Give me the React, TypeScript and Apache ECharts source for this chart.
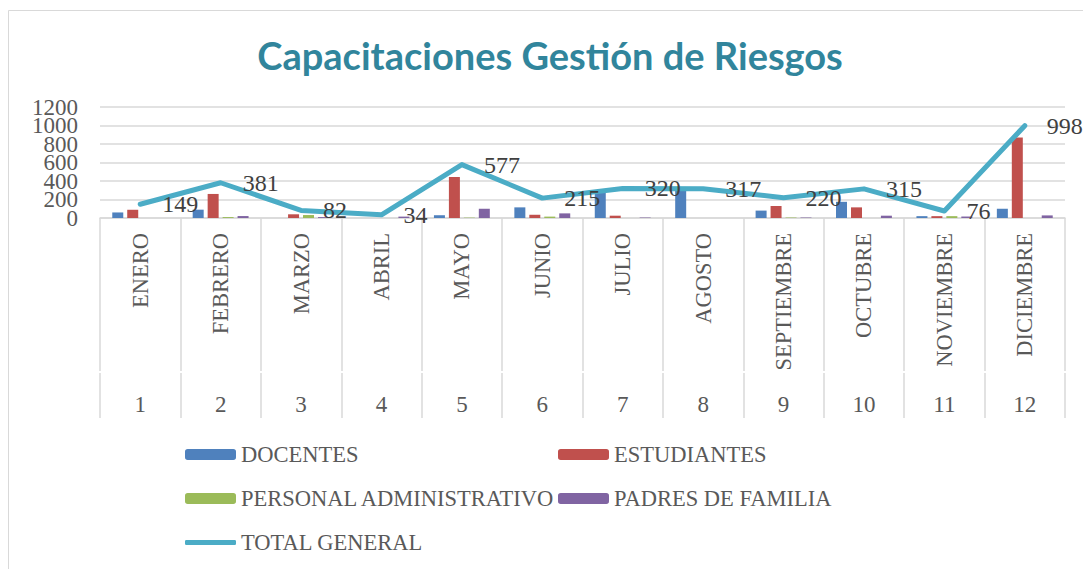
import React, { useEffect, useRef } from "react";
import * as echarts from "echarts";

const months = ["ENERO", "FEBRERO", "MARZO", "ABRIL", "MAYO", "JUNIO", "JULIO", "AGOSTO", "SEPTIEMBRE", "OCTUBRE", "NOVIEMBRE", "DICIEMBRE"];
const monthNumbers = ["1", "2", "3", "4", "5", "6", "7", "8", "9", "10", "11", "12"];
const docentes = [60, 90, 0, 0, 30, 115, 290, 317, 80, 175, 20, 100];
const estudiantes = [89, 260, 40, 0, 443, 35, 25, 0, 130, 115, 20, 870];
const personalAdministrativo = [0, 10, 32, 0, 4, 15, 0, 0, 5, 0, 20, 0];
const padresDeFamilia = [0, 21, 10, 15, 100, 50, 5, 0, 5, 25, 16, 28];
const totalGeneral = [149, 381, 82, 34, 577, 215, 320, 317, 220, 315, 76, 998];
const yTicks = { min: 0, max: 1200, interval: 200 };

const serif = "'Liberation Serif', 'DejaVu Serif', serif";
const grey = "#595959";
const lineGrey = "#D9D9D9";

export default function App() {
  const ref = useRef<HTMLDivElement>(null);
  useEffect(() => {
    if (!ref.current) return;
    const chart = echarts.init(ref.current, null, { renderer: "svg" });
    const barSeries = (name: string, data: number[], color: string) => ({
      name,
      type: "bar",
      data,
      barWidth: 11,
      barGap: "36%",
      itemStyle: { color },
      xAxisIndex: 0,
      yAxisIndex: 0,
    });
    const legendBase = {
      orient: "horizontal",
      padding: 0,
      itemWidth: 51,
      itemHeight: 11,
      textStyle: { fontFamily: serif, fontSize: 22.5, color: grey },
      selectedMode: false,
    };
    const yLabelBase = {
      margin: 22,
      fontFamily: serif,
      fontSize: 23,
      color: grey,
      hideOverlap: false,
    };
    const yBase = {
      type: "value",
      min: yTicks.min,
      max: yTicks.max,
      interval: yTicks.interval,
      position: "left",
      axisLine: { show: false, onZero: false },
      axisTick: { show: false },
    };
    chart.setOption({
      animation: false,
      backgroundColor: "#ffffff",
      graphic: [
        {
          type: "rect",
          shape: { x: 8.5, y: 10.5, width: 1100, height: 600 },
          style: { fill: "none", stroke: lineGrey, lineWidth: 1 },
          silent: true,
          z: -10,
        },
        {
          type: "text",
          x: 550,
          y: 55,
          style: {
            text: "Capacitaciones Gestión de Riesgos",
            textAlign: "center",
            textVerticalAlign: "middle",
            fontFamily: "Lato, 'Open Sans', sans-serif",
            fontWeight: "bold",
            fontSize: 38,
            fill: "#31859C",
          },
        },
      ],
      legend: [
        { ...legendBase, data: ["DOCENTES"], left: 185, top: 443 },
        { ...legendBase, data: ["ESTUDIANTES"], left: 558, top: 443 },
        { ...legendBase, data: ["PERSONAL ADMINISTRATIVO"], left: 185, top: 487 },
        { ...legendBase, data: ["PADRES DE FAMILIA"], left: 558, top: 487 },
        { ...legendBase, data: [{ name: "TOTAL GENERAL", icon: "roundRect" }], itemHeight: 5, left: 185, top: 531 },
      ],
      grid: { left: 100, right: 18, top: 107, bottom: 351, containLabel: false },
      xAxis: [
        {
          type: "category",
          data: months,
          position: "bottom",
          axisLine: { show: true, onZero: false, lineStyle: { color: lineGrey, width: 1.5 } },
          axisTick: { show: true, length: 153, lineStyle: { color: lineGrey, width: 1.5 } },
          axisLabel: { interval: 0, rotate: 90, margin: 15, fontFamily: serif, fontSize: 22.5, color: grey },
        },
        {
          type: "category",
          data: monthNumbers,
          position: "bottom",
          offset: 155,
          axisLine: { show: false, onZero: false },
          axisTick: { show: true, interval: 0, length: 45, lineStyle: { color: lineGrey, width: 1.5 } },
          axisLabel: { interval: 0, margin: 20, fontFamily: serif, fontSize: 23, color: grey },
        },
      ],
      yAxis: [
        {
          ...yBase,
          axisLabel: {
            ...yLabelBase,
            formatter: (v: number) => (v % 400 === 0 ? String(v) : ""),
          },
          splitLine: { lineStyle: { color: lineGrey, width: 1.5 } },
        },
        {
          ...yBase,
          axisLabel: {
            ...yLabelBase,
            formatter: (v: number) => (v % 400 !== 0 ? String(v) : ""),
          },
          splitLine: { show: false },
        },
      ],
      series: [
        barSeries("DOCENTES", docentes, "#4F81BD"),
        barSeries("ESTUDIANTES", estudiantes, "#C0504D"),
        barSeries("PERSONAL ADMINISTRATIVO", personalAdministrativo, "#9BBB59"),
        barSeries("PADRES DE FAMILIA", padresDeFamilia, "#8064A2"),
        {
          name: "TOTAL GENERAL",
          type: "line",
          data: totalGeneral,
          xAxisIndex: 0,
          yAxisIndex: 0,
          symbol: "circle",
          symbolSize: 0.1,
          showSymbol: true,
          z: 5,
          lineStyle: { color: "#4BACC6", width: 5, cap: "round", join: "round" },
          itemStyle: { color: "#4BACC6" },
          labelLayout: { hideOverlap: false },
          label: {
            show: true,
            position: "right",
            distance: 22,
            fontFamily: serif,
            fontSize: 24,
            color: "#404040",
          },
        },
      ],
    });
    return () => chart.dispose();
  }, []);
  return <div ref={ref} style={{ position: "fixed", left: 0, top: 0, width: 1083, height: 569 }} />;
}
